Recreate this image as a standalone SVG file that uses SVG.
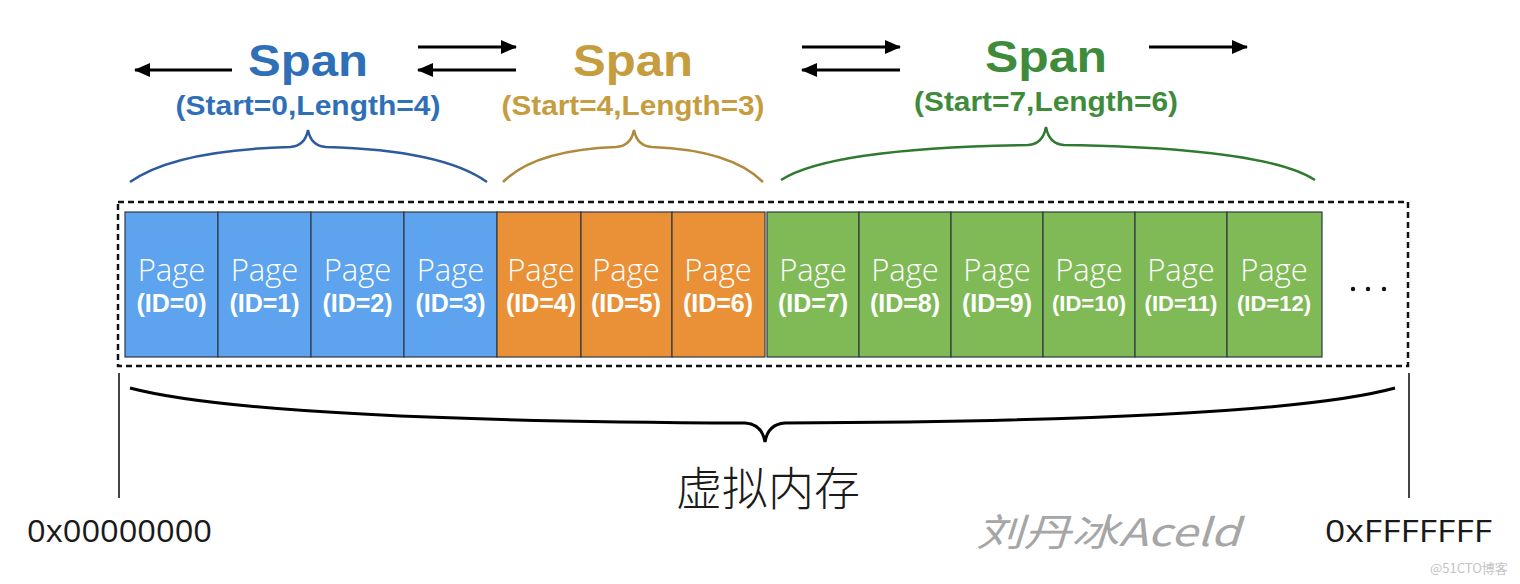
<svg xmlns="http://www.w3.org/2000/svg" width="1520" height="584" viewBox="0 0 1520 584">
<defs>
<marker id="ah" viewBox="0 0 16 14" refX="15" refY="7" markerWidth="16" markerHeight="14" markerUnits="userSpaceOnUse" orient="auto">
<path d="M0,0 L16,7 L0,14 Z" fill="#000"/>
</marker>
<style>
.pg{stroke:#2f3a44;stroke-width:1.2}
.blue{fill:#5ea3ee}
.orange{fill:#ea9138}
.green{fill:#7fba56}
.pt{font-family:"Open Sans","Liberation Sans",Arial,sans-serif;font-weight:300;font-size:31px;fill:#fff;text-anchor:middle}
.it{font-family:"Liberation Sans",Arial,sans-serif;font-weight:bold;font-size:25px;fill:#fff;text-anchor:middle}
.it2{font-size:22px}
.span{font-family:"Liberation Sans",Arial,sans-serif;font-weight:bold;font-size:45px;text-anchor:middle}
.sub{font-family:"Liberation Sans",Arial,sans-serif;font-weight:bold;font-size:27px;text-anchor:middle}
.arr{stroke:#000;stroke-width:3;fill:none;marker-end:url(#ah)}
.brace{fill:none;stroke-width:2.5}
.addr{font-family:"Open Sans","Liberation Sans",Arial,sans-serif;font-weight:400;font-size:31px;fill:#1a1a1a}
</style>
</defs>
<rect width="1520" height="584" fill="#fff"/>

<g id="span-blue">
<text class="span" x="308" y="76" fill="#2f6fb8" textLength="120" lengthAdjust="spacingAndGlyphs">Span</text>
<text class="sub" x="308" y="115" fill="#2f6fb8" textLength="265" lengthAdjust="spacingAndGlyphs">(Start=0,Length=4)</text>
<path class="brace" stroke="#2c5c9c" d="M130,182 Q175,150 290,147 Q305,146 308,130 Q311,146 326,147 Q442,150 487,182"/>
</g>
<g id="span-orange">
<text class="span" x="633" y="76" fill="#c59c3e" textLength="120" lengthAdjust="spacingAndGlyphs">Span</text>
<text class="sub" x="633" y="115" fill="#c59c3e" textLength="263" lengthAdjust="spacingAndGlyphs">(Start=4,Length=3)</text>
<path class="brace" stroke="#b08a3c" d="M503,182 Q535,150 616,147 Q631,146 634,130 Q637,146 652,147 Q731,150 763,182"/>
</g>
<g id="span-green">
<text class="span" x="1046" y="72" fill="#3d8b3b" textLength="122" lengthAdjust="spacingAndGlyphs">Span</text>
<text class="sub" x="1046" y="111" fill="#3d8b3b" textLength="264" lengthAdjust="spacingAndGlyphs">(Start=7,Length=6)</text>
<path class="brace" stroke="#2f7a30" d="M781,180 Q830,148 1028,145 Q1043,144 1046,127 Q1049,144 1064,145 Q1265,148 1315,180"/>
</g>

<g id="connectors">
<line class="arr" x1="232" y1="70" x2="135" y2="70"/>
<line class="arr" x1="418" y1="47" x2="516" y2="47"/>
<line class="arr" x1="516" y1="70" x2="418" y2="70"/>
<line class="arr" x1="802" y1="47" x2="900" y2="47"/>
<line class="arr" x1="900" y1="70" x2="802" y2="70"/>
<line class="arr" x1="1149" y1="47" x2="1247" y2="47"/>
</g>

<g id="memory">
<rect x="118" y="202" width="1290" height="164" fill="none" stroke="#111" stroke-width="2.5" stroke-dasharray="6,4"/>
</g>

<g id="page-0"><rect class="pg blue" x="125" y="212" width="93" height="145"/><text class="pt" x="171.5" y="281">Page</text><text class="it" x="171.5" y="312">(ID=0)</text></g>
<g id="page-1"><rect class="pg blue" x="218" y="212" width="93" height="145"/><text class="pt" x="264.5" y="281">Page</text><text class="it" x="264.5" y="312">(ID=1)</text></g>
<g id="page-2"><rect class="pg blue" x="311" y="212" width="93" height="145"/><text class="pt" x="357.5" y="281">Page</text><text class="it" x="357.5" y="312">(ID=2)</text></g>
<g id="page-3"><rect class="pg blue" x="404" y="212" width="93" height="145"/><text class="pt" x="450.5" y="281">Page</text><text class="it" x="450.5" y="312">(ID=3)</text></g>
<g id="page-4"><rect class="pg orange" x="497" y="212" width="84" height="145"/><text class="pt" x="541" y="281">Page</text><text class="it" x="541" y="312">(ID=4)</text></g>
<g id="page-5"><rect class="pg orange" x="581" y="212" width="91" height="145"/><text class="pt" x="626" y="281">Page</text><text class="it" x="626" y="312">(ID=5)</text></g>
<g id="page-6"><rect class="pg orange" x="672" y="212" width="93" height="145"/><text class="pt" x="718" y="281">Page</text><text class="it" x="718" y="312">(ID=6)</text></g>
<g id="page-7"><rect class="pg green" x="767" y="212" width="92" height="145"/><text class="pt" x="813" y="281">Page</text><text class="it" x="813" y="312">(ID=7)</text></g>
<g id="page-8"><rect class="pg green" x="859" y="212" width="92" height="145"/><text class="pt" x="905" y="281">Page</text><text class="it" x="905" y="312">(ID=8)</text></g>
<g id="page-9"><rect class="pg green" x="951" y="212" width="92" height="145"/><text class="pt" x="997" y="281">Page</text><text class="it" x="997" y="312">(ID=9)</text></g>
<g id="page-10"><rect class="pg green" x="1043" y="212" width="92" height="145"/><text class="pt" x="1089" y="281">Page</text><text class="it it2" x="1089" y="311">(ID=10)</text></g>
<g id="page-11"><rect class="pg green" x="1135" y="212" width="92" height="145"/><text class="pt" x="1181" y="281">Page</text><text class="it it2" x="1181" y="311">(ID=11)</text></g>
<g id="page-12"><rect class="pg green" x="1227" y="212" width="95" height="145"/><text class="pt" x="1274" y="281">Page</text><text class="it it2" x="1274" y="311">(ID=12)</text></g>

<g id="ellipsis" fill="#111">
<circle cx="1353" cy="289" r="2.2"/><circle cx="1368" cy="289" r="2.2"/><circle cx="1384" cy="289" r="2.2"/>
</g>

<g id="virtual-memory">
<path d="M130,388 Q255,421 745,423 Q762,424 765,442 Q768,424 785,423 Q1275,421 1395,388" fill="none" stroke="#000" stroke-width="3"/>
<line x1="119" y1="373" x2="119" y2="498" stroke="#444" stroke-width="2"/>
<line x1="1409" y1="373" x2="1409" y2="498" stroke="#444" stroke-width="2"/>
<text x="768" y="505" font-family="'Noto Sans CJK SC',sans-serif" font-weight="300" font-size="46" fill="#1a1a1a" text-anchor="middle">虚拟内存</text>
<text class="addr" x="27" y="542" textLength="185" lengthAdjust="spacingAndGlyphs">0x00000000</text>
<text class="addr" x="1325" y="542" textLength="167" lengthAdjust="spacingAndGlyphs">0xFFFFFFF</text>
</g>

<g id="watermark">
<text x="976" y="546" font-family="'Noto Sans CJK SC',sans-serif" font-size="38" fill="#a6a6a6" font-style="italic" textLength="264" lengthAdjust="spacingAndGlyphs">刘丹冰Aceld</text>
<text x="1430" y="573" font-family="'Noto Sans CJK SC',sans-serif" font-size="13" fill="#c4c4c4">@51CTO博客</text>
</g>
</svg>
